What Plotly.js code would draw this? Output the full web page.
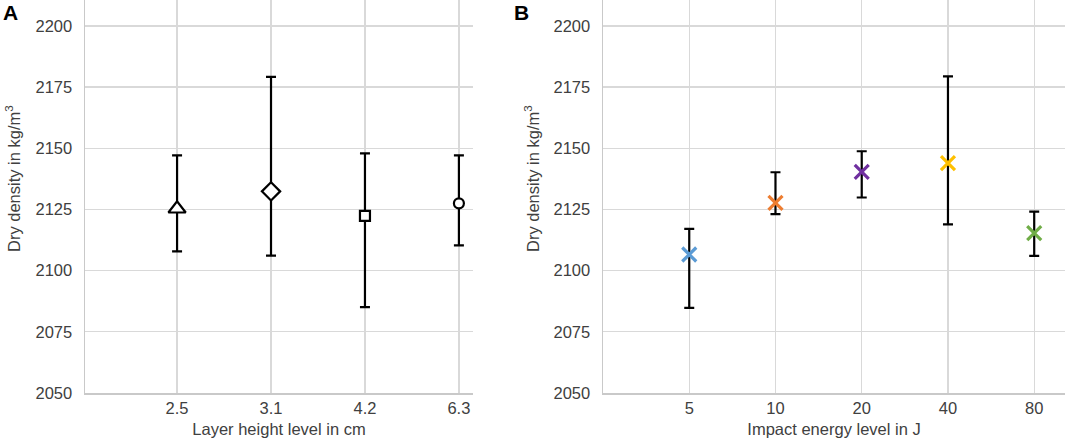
<!DOCTYPE html>
<html>
<head>
<meta charset="utf-8">
<script src="https://cdn.plot.ly/plotly-3.0.1.min.js"></script>
<style>
  html, body { margin: 0; padding: 0; background: #fff; }
  #chart { width: 1065px; height: 441px; }
</style>
</head>
<body>
<div id="chart"></div>
<script>
// panel A: layer height
const layerLabels = ['2.5', '3.1', '4.2', '6.3'];
const layerMean = [2125.3, 2132.4, 2122.4, 2127.5];
const layerUpper = [2147.1, 2179.2, 2147.9, 2147.1];
const layerLower = [2107.9, 2106.1, 2085.1, 2110.3];

// panel B: impact energy
const energyLabels = ['5', '10', '20', '40', '80'];
const energyMean = [2106.6, 2127.7, 2140.4, 2143.9, 2115.3];
const energyUpper = [2117.1, 2140.2, 2148.8, 2179.4, 2124.1];
const energyLower = [2084.8, 2123.1, 2129.9, 2118.9, 2106.0];

const yTicks = [2050, 2075, 2100, 2125, 2150, 2175, 2200];

const layerSymbols = ['triangle-up', 'diamond', 'square', 'circle'];
const layerSizes = [15, 14, 10, 10];
const energyColors = ['#5B9BD5', '#ED7D31', '#7030A0', '#FFC000', '#70AD47'];

const up = (u, m) => u.map((v, i) => v - m[i]);
const down = (l, m) => l.map((v, i) => m[i] - v);

const errStyle = { type: 'data', symmetric: false, color: '#000', thickness: 2.2, width: 5 };

const traceA = {
  x: layerLabels, y: layerMean, xaxis: 'x', yaxis: 'y',
  type: 'scatter', mode: 'markers',
  marker: { symbol: layerSymbols, size: layerSizes, opacity: 1, color: '#fff', line: { color: '#000', width: 2.2 } },
  error_y: Object.assign({ array: up(layerUpper, layerMean), arrayminus: down(layerLower, layerMean) }, errStyle),
  hoverinfo: 'x+y'
};

const traceB = {
  x: energyLabels, y: energyMean, xaxis: 'x2', yaxis: 'y2',
  type: 'scatter', mode: 'markers',
  marker: { symbol: 'x-thin-open', size: 14, opacity: 1, color: energyColors, line: { color: energyColors, width: 3.2 } },
  error_y: Object.assign({ array: up(energyUpper, energyMean), arrayminus: down(energyLower, energyMean) }, errStyle),
  hoverinfo: 'x+y'
};

const font = { family: 'Liberation Sans, Arial, sans-serif', size: 16.5, color: '#404040' };
const gridC = '#d9d9d9';

const yAxisBase = {
  range: [2050, 2210.6], tickvals: yTicks, ticks: '', ticklen: 0,
  showgrid: true, gridcolor: gridC, gridwidth: 1.3,
  showline: true, linecolor: '#c9c9c9', linewidth: 1.5,
  zeroline: false, tickfont: font, ticklabelstandoff: 8, fixedrange: true
};
const xAxisBase = {
  type: 'category', ticks: '', showgrid: true, gridcolor: gridC, gridwidth: 1.3,
  showline: true, linecolor: '#c9c9c9', linewidth: 1.5, zeroline: false,
  tickfont: font, fixedrange: true
};

const layout = {
  width: 1065, height: 441,
  margin: { l: 0, r: 0, t: 0, b: 0 },
  paper_bgcolor: '#fff', plot_bgcolor: '#fff',
  showlegend: false,
  font: font,
  xaxis: Object.assign({}, xAxisBase, {
    domain: [85 / 1065, 473 / 1065], anchor: 'y', range: [-0.98, 3.15],
    title: { text: 'Layer height level in cm', font: font, standoff: 7 }
  }),
  yaxis: Object.assign({}, yAxisBase, { domain: [1 - 393 / 441, 1], anchor: 'x' }),
  xaxis2: Object.assign({}, xAxisBase, {
    domain: [603 / 1065, 1], anchor: 'y2', range: [-1, 4.357],
    title: { text: 'Impact energy level in J', font: font, standoff: 7 }
  }),
  yaxis2: Object.assign({}, yAxisBase, { domain: [1 - 393 / 441, 1], anchor: 'x2' }),
  annotations: [
    { text: '<b>A</b>', xref: 'paper', yref: 'paper', x: 10.5 / 1065, y: 1 - 12 / 441,
      xanchor: 'center', yanchor: 'middle', showarrow: false,
      font: { family: 'Liberation Sans, Arial, sans-serif', size: 21, color: '#000' } },
    { text: '<b>B</b>', xref: 'paper', yref: 'paper', x: 521 / 1065, y: 1 - 12 / 441,
      xanchor: 'center', yanchor: 'middle', showarrow: false,
      font: { family: 'Liberation Sans, Arial, sans-serif', size: 21, color: '#000' } },
    { text: 'Dry density in kg/m<sup>3</sup>', xref: 'paper', yref: 'paper', x: 13 / 1065, y: 1 - 179 / 441,
      xanchor: 'center', yanchor: 'middle', textangle: -90, showarrow: false, font: font },
    { text: 'Dry density in kg/m<sup>3</sup>', xref: 'paper', yref: 'paper', x: 532 / 1065, y: 1 - 179 / 441,
      xanchor: 'center', yanchor: 'middle', textangle: -90, showarrow: false, font: font }
  ]
};

Plotly.newPlot('chart', [traceA, traceB], layout, { displayModeBar: false, staticPlot: true });
</script>
</body>
</html>
